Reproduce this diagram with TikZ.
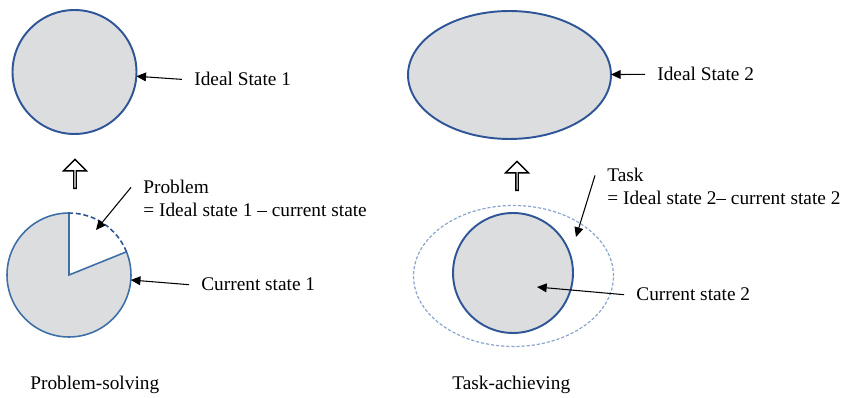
\documentclass[tikz,border=0pt]{standalone}
\usepackage{fontspec}
\setmainfont{Liberation Serif}
\usepackage{tikz}
\usepackage{xcolor}
\usetikzlibrary{arrows.meta, shapes.geometric, shapes.arrows}
\definecolor{statblue}{HTML}{2E5597}
\definecolor{pieblue}{HTML}{3E6FA7}
\definecolor{dashblue}{HTML}{8EA6CE}
\definecolor{stategray}{HTML}{DCDDDF}

\begin{document}
\begin{tikzpicture}[
      x=0.02cm, y=0.02cm,
      state/.style={draw=statblue, fill=stategray, line width=1.1pt,
                    inner sep=0pt, outer sep=0pt},
      lbl/.style={font=\fontsize{11}{13}\selectfont, inner xsep=0.24cm,
                  inner ysep=0pt, anchor=base west},
      arr/.style={-{Triangle[length=5.5pt, width=5pt]}, line width=0.6pt},
      uparr/.style={single arrow, draw, fill=white, line width=0.8pt,
                    shape border rotate=90, minimum height=0.58cm,
                    minimum width=0.46cm, single arrow head extend=0.12cm,
                    inner sep=0pt},
    ]
    \useasboundingbox (0,0) rectangle (851,398);

    % Left — problem-solving
    \node[state, circle, minimum size=2.48cm] (ideal1) at (74.5,326) {};
    \node[lbl] (ideal1lbl) at (182,312) {Ideal State 1};
    \node[uparr] (up1) at (75,223.5) {};

    \node[circle, inner sep=0pt, outer sep=0pt, minimum size=2.48cm] (cur1) at (69,123) {};
    \fill[stategray] (cur1.center) -- (cur1.90)
      arc[start angle=90, end angle=382, radius=1.24cm] -- cycle;
    \draw[pieblue, line width=0.9pt] (cur1.center) -- (cur1.90)
      arc[start angle=90, end angle=382, radius=1.24cm] -- cycle;
    \draw[statblue, line width=0.9pt, dash pattern=on 2.8pt off 1.6pt]
      (cur1.22) arc[start angle=22, end angle=90, radius=1.24cm];
    \coordinate (gap1) at (96,168);

    \node[lbl] (problbl) at (131,204) {Problem};
    \node[lbl] (probeq) at (131,181) {= Ideal state 1 -- current state};
    \node[lbl] (cur1lbl) at (189,107) {Current state 1};

    % Right — task-achieving
    \node[state, ellipse, minimum width=4.06cm, minimum height=2.56cm] (ideal2) at (509.5,323) {};
    \node[lbl] (ideal2lbl) at (645,317) {Ideal State 2};
    \node[uparr] (up2) at (517,221.5) {};

    \node[ellipse, draw=dashblue, line width=0.7pt, dash pattern=on 1.8pt off 1.1pt,
          minimum width=4.0cm, minimum height=2.82cm, inner sep=0pt] (task2) at (513.5,122) {};
    \node[state, circle, minimum size=2.4cm] (cur2) at (513,125) {};
    \coordinate (gap2) at (576,161);
    \coordinate (in2) at (537,111);

    \node[lbl] (tasklbl) at (595,216) {Task};
    \node[lbl] (taskeq) at (595,193) {= Ideal state 2-- current state 2};
    \node[lbl] (cur2lbl) at (624,97) {Current state 2};

    % Arrows
    \draw[arr] (ideal1lbl.west) -- (ideal1);
    \draw[arr] (problbl.west)   -- (gap1);
    \draw[arr] (cur1lbl.west)   -- (cur1);
    \draw[arr] (ideal2lbl.west) -- (ideal2);
    \draw[arr] (tasklbl.west)   -- (gap2);
    \draw[arr] (cur2lbl.west)   -- (in2);

    % Captions
    \node[lbl, inner xsep=0pt] (capl) at (30,8) {Problem-solving};
    \node[lbl, inner xsep=0pt] (capr) at (452,8) {Task-achieving};
  \end{tikzpicture}
\end{document}
